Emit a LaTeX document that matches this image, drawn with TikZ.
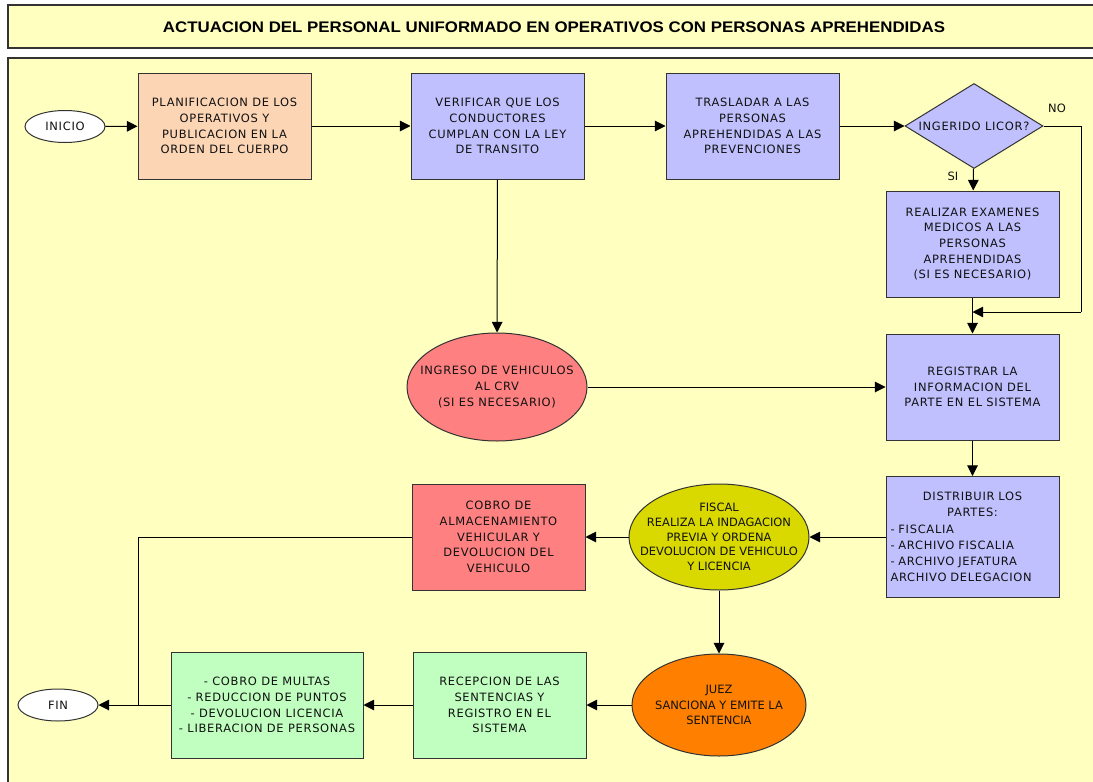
\documentclass[tikz,border=0pt]{standalone}
\usepackage{fontspec}
\usetikzlibrary{shapes.geometric,arrows.meta}
\newfontfamily\df[LetterSpace=6]{DejaVu Sans}
\newfontfamily\dfn[LetterSpace=0]{DejaVu Sans}
\newfontfamily\tf{Liberation Sans}
\definecolor{bgy}{HTML}{FFFFC0}
\definecolor{lav}{HTML}{C0C0FF}
\definecolor{peach}{HTML}{FCD5B5}
\definecolor{salmon}{HTML}{FF8080}
\definecolor{olive}{HTML}{D9D900}
\definecolor{orng}{HTML}{FF8000}
\definecolor{mint}{HTML}{C0FFC0}
\definecolor{linec}{HTML}{333333}
\definecolor{txt}{HTML}{111111}
\begin{document}
\begin{tikzpicture}[x=0.75pt,y=-0.75pt,
  base/.style={draw=linec, line width=0.75pt, align=center, text=txt,
    font=\df\fontsize{8.6}{11.8}\selectfont},
  box/.style={base, rectangle, minimum width=129.75pt, minimum height=79.5pt, inner sep=0pt},
  ell/.style={base, ellipse, inner sep=-40pt},
  term/.style={base, ellipse, fill=white, minimum width=60pt, minimum height=24pt, inner sep=-20pt},
  arr/.style={-{Triangle[length=8pt,width=8pt]}, line width=0.75pt, draw=black},
  ln/.style={line width=0.75pt, draw=black},
  lbl/.style={inner sep=0pt, text=txt, font=\dfn\fontsize{8.6}{10}\selectfont}
]
\useasboundingbox (0,0) rectangle (1093,782);
\fill[white] (0,0) rectangle (1093,782);
% title
\draw[fill=bgy, draw=linec, line width=1pt] (8,5) rectangle (1110,48);
\node[inner sep=0pt, text=black, font=\tf\bfseries\fontsize{11.5}{13}\selectfont] (title) at (554,27)
  {\scalebox{1.1}[1]{ACTUACION DEL PERSONAL UNIFORMADO EN OPERATIVOS CON PERSONAS APREHENDIDAS}};
% main panel
\draw[fill=bgy, draw=linec, line width=1pt] (8,58) rectangle (1110,800);

% top row
\node[term] (inicio) at (65,126.5) {INICIO};
\node[box, fill=peach] (plan) at (224.5,126) {PLANIFICACION DE LOS\\OPERATIVOS Y\\PUBLICACION EN LA\\ORDEN DEL CUERPO};
\node[box, fill=lav] (verif) at (497.5,126) {VERIFICAR QUE LOS\\CONDUCTORES\\CUMPLAN CON LA LEY\\DE TRANSITO};
\node[box, fill=lav] (trasl) at (752.5,126) {TRASLADAR A LAS\\PERSONAS\\APREHENDIDAS A LAS\\PREVENCIONES};
\node[base, diamond, fill=lav, minimum width=103.5pt, minimum height=63.75pt, inner sep=-40pt] (dia) at (974,126) {INGERIDO LICOR?};
\node[lbl] (no) at (1057,108) {NO};
\node[lbl] (si) at (953,176) {SI};

% right column
\node[box, fill=lav] (realiz) at (972.5,244) {REALIZAR EXAMENES\\MEDICOS A LAS\\PERSONAS\\APREHENDIDAS\\(SI ES NECESARIO)};
\node[box, fill=lav] (regis) at (972.5,387) {REGISTRAR LA\\INFORMACION DEL\\PARTE EN EL SISTEMA};
\node[box, fill=lav, minimum height=90.75pt, text width=123pt, align=left, font=\df\fontsize{8.6}{12.1}\selectfont] (distr) at (972.5,537)
  {\centering DISTRIBUIR LOS\\PARTES:\par\raggedright - FISCALIA\\- ARCHIVO FISCALIA\\- ARCHIVO JEFATURA\\ARCHIVO DELEGACION};

% middle
\node[ell, fill=salmon, minimum width=135pt, minimum height=81pt] (ingreso) at (497,387) {INGRESO DE VEHICULOS\\AL CRV\\(SI ES NECESARIO)};
\node[ell, fill=olive, minimum width=135pt, minimum height=79.5pt, font=\dfn\fontsize{8.6}{11.1}\selectfont] (fiscal) at (719,537)
  {FISCAL\\REALIZA LA INDAGACION\\PREVIA Y ORDENA\\DEVOLUCION DE VEHICULO\\Y LICENCIA};
\node[box, fill=salmon] (cobro) at (498.5,537) {COBRO DE\\ALMACENAMIENTO\\VEHICULAR Y\\DEVOLUCION DEL\\VEHICULO};

% bottom row
\node[ell, fill=orng, minimum width=130.5pt, minimum height=76.5pt, font=\dfn\fontsize{8.6}{11.8}\selectfont] (juez) at (719,705) {JUEZ\\SANCIONA Y EMITE LA\\SENTENCIA};
\node[box, fill=mint] (recep) at (499.5,705) {RECEPCION DE LAS\\SENTENCIAS Y\\REGISTRO EN EL\\SISTEMA};
\node[box, fill=mint, minimum width=144pt] (multas) at (267,705) {- COBRO DE MULTAS\\- REDUCCION DE PUNTOS\\- DEVOLUCION LICENCIA\\- LIBERACION DE PERSONAS};
\node[term] (fin) at (58,705) {FIN};

% connectors
\coordinate (noA) at (1081,126);
\coordinate (noB) at (1081,312);
\coordinate (mrg) at (972.5,312);
\coordinate (jn) at (138,705);

\draw[arr] (inicio) -- (plan);
\draw[arr] (plan) -- (verif);
\draw[arr] (verif) -- (trasl);
\draw[arr] (trasl) -- (dia);
\draw[arr] (dia) -- (realiz);
\draw[ln] (dia.east) -- (noA) -- (noB);
\draw[arr] (noB) -- (mrg);
\draw[arr] (realiz) -- (regis);
\draw[arr] (verif) -- (ingreso);
\draw[arr] (ingreso) -- (regis);
\draw[arr] (regis) -- (distr);
\draw[arr] (distr) -- (fiscal);
\draw[arr] (fiscal) -- (cobro);
\draw[ln] (cobro.west) -| (jn);
\draw[arr] (fiscal) -- (juez);
\draw[arr] (juez) -- (recep);
\draw[arr] (recep) -- (multas);
\draw[arr] (multas) -- (fin);
\end{tikzpicture}
\end{document}
